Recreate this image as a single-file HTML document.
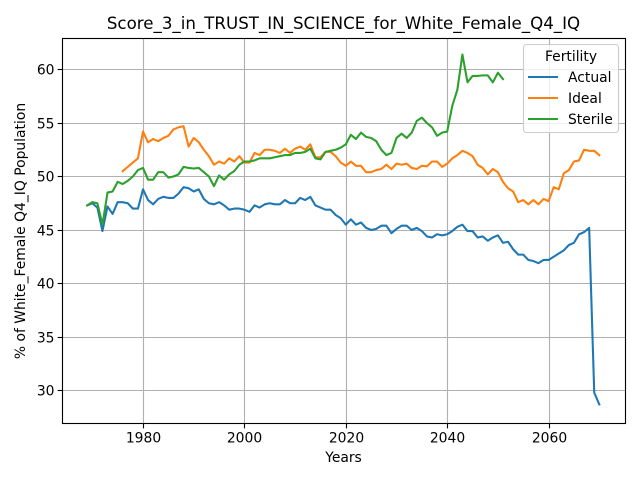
<!DOCTYPE html>
<html>
<head>
<meta charset="utf-8">
<title>Score_3_in_TRUST_IN_SCIENCE_for_White_Female_Q4_IQ</title>
<style>
html,body{margin:0;padding:0;background:#fff;}
svg{display:block;font-family:"DejaVu Sans",sans-serif;}
</style>
</head>
<body>
<svg id="chart" width="640" height="480" viewBox="0 0 640 480" xmlns="http://www.w3.org/2000/svg">
<rect x="0" y="0" width="640" height="480" fill="#fff"/>
<g id="grid"></g>
<g id="series"></g>
<rect x="62.5" y="38.5" width="563" height="385" fill="none" stroke="#000" stroke-width="1.11"/>
<g id="ticks"></g>
<text x="343.5" y="29" font-size="16.67" text-anchor="middle" fill="#000">Score_3_in_TRUST_IN_SCIENCE_for_White_Female_Q4_IQ</text>
<text x="343.5" y="462" font-size="13.89" text-anchor="middle" fill="#000">Years</text>
<text transform="translate(25 231) rotate(-90)" font-size="13.89" text-anchor="middle" fill="#000">% of White_Female Q4_IQ Population</text>
<g id="legend">
<rect x="523.5" y="44.5" width="95" height="88" rx="3" ry="3" fill="#fff" fill-opacity="0.8" stroke="#ccc" stroke-width="1.11"/>
<text x="571" y="61" font-size="13.89" text-anchor="middle" fill="#000">Fertility</text>
<line x1="528" y1="77" x2="558" y2="77" stroke="#1f77b4" stroke-width="2.08"/>
<text x="568" y="82" font-size="13.89" fill="#000">Actual</text>
<line x1="528" y1="98" x2="558" y2="98" stroke="#ff7f0e" stroke-width="2.08"/>
<text x="568" y="103" font-size="13.89" fill="#000">Ideal</text>
<line x1="528" y1="119" x2="558" y2="119" stroke="#2ca02c" stroke-width="2.08"/>
<text x="568" y="124" font-size="13.89" fill="#000">Sterile</text>
</g>
</svg>
<script>
const xTickLabels = [1980, 2000, 2020, 2040, 2060];
const yTickLabels = [30, 35, 40, 45, 50, 55, 60];
const actualStartYear = 1969;
const idealStartYear = 1976;
const sterileStartYear = 1969;
const actualValues = [47.3,47.5,47.1,44.9,47.2,46.5,47.6,47.6,47.5,47.0,47.0,48.8,47.8,47.4,47.9,48.1,48.0,48.0,48.4,49.0,48.9,48.6,48.8,47.9,47.5,47.4,47.6,47.3,46.9,47.0,47.0,46.9,46.7,47.3,47.1,47.4,47.5,47.4,47.4,47.8,47.5,47.5,48.0,47.8,48.1,47.3,47.1,46.9,46.9,46.4,46.1,45.5,46.0,45.5,45.7,45.2,45.0,45.1,45.4,45.4,44.7,45.1,45.4,45.4,45.0,45.2,44.9,44.4,44.3,44.6,44.5,44.6,44.9,45.3,45.5,44.9,44.9,44.3,44.4,44.0,44.3,44.5,43.8,43.9,43.2,42.7,42.7,42.2,42.1,41.9,42.2,42.2,42.5,42.8,43.1,43.6,43.8,44.6,44.8,45.2,29.8,28.7];
const idealValues = [50.5,50.9,51.3,51.7,54.2,53.2,53.5,53.3,53.6,53.8,54.4,54.6,54.7,52.8,53.6,53.2,52.5,51.9,51.1,51.4,51.2,51.7,51.4,51.9,51.3,51.3,52.2,52.0,52.5,52.5,52.4,52.2,52.6,52.2,52.6,52.8,52.5,53.0,51.8,51.8,52.3,52.3,51.9,51.3,51.0,51.4,51.0,51.0,50.4,50.4,50.6,50.7,51.1,50.7,51.2,51.1,51.2,50.8,50.7,51.0,50.95,51.4,51.4,50.9,51.2,51.7,52.0,52.4,52.2,51.9,51.1,50.8,50.2,50.7,50.4,49.5,48.9,48.6,47.6,47.8,47.4,47.8,47.4,47.9,47.7,49.0,48.8,50.3,50.6,51.4,51.5,52.5,52.4,52.4,52.0];
const sterileValues = [47.3,47.6,47.5,45.5,48.5,48.6,49.5,49.3,49.6,50.0,50.6,50.8,49.7,49.7,50.4,50.4,49.9,50.0,50.2,50.9,50.8,50.75,50.8,50.4,50.0,49.1,50.1,49.7,50.2,50.5,51.1,51.4,51.4,51.5,51.7,51.7,51.7,51.8,51.9,52.0,52.0,52.2,52.2,52.3,52.6,51.7,51.6,52.3,52.4,52.5,52.7,53.0,53.9,53.5,54.1,53.7,53.6,53.3,52.5,52.0,52.2,53.6,54.0,53.6,54.1,55.2,55.5,55.0,54.6,53.8,54.1,54.2,56.6,58.1,61.4,58.8,59.4,59.4,59.45,59.45,58.8,59.7,59.1];

const NS = 'http://www.w3.org/2000/svg';
const plotLeft = 62.5, plotRight = 625.5, plotTop = 38.5, plotBottom = 423.5;
function xScale(year) { return 143 + (year - 1980) * 5.07; }
function yScale(value) { return 390.5 - (value - 30) * 10.7; }
function make(tag, attrs, parent) {
  const el = document.createElementNS(NS, tag);
  for (const k in attrs) el.setAttribute(k, attrs[k]);
  parent.appendChild(el);
  return el;
}
const gridG = document.getElementById('grid');
const ticksG = document.getElementById('ticks');
const seriesG = document.getElementById('series');

xTickLabels.forEach(function (label) {
  const px = Math.round(xScale(label)) + 0.5;
  const g = make('line', {x1: px, y1: plotTop, x2: px, y2: plotBottom, stroke: '#b0b0b0', 'stroke-width': 1.11}, gridG);
  
  
  const t = make('line', {x1: px, y1: plotBottom, x2: px, y2: plotBottom + 4.86, stroke: '#000', 'stroke-width': 1.11}, ticksG);
  
  
  const txt = make('text', {x: px, y: plotBottom + 19, 'font-size': 13.89, 'text-anchor': 'middle', fill: '#000'}, ticksG);
  
  
  txt.textContent = label;
});
yTickLabels.forEach(function (label) {
  const py = Math.round(yScale(label) - 0.5) + 0.5;
  const g = make('line', {x1: plotLeft, y1: py, x2: plotRight, y2: py, stroke: '#b0b0b0', 'stroke-width': 1.11}, gridG);
  
  
  const t = make('line', {x1: plotLeft - 4.86, y1: py, x2: plotLeft, y2: py, stroke: '#000', 'stroke-width': 1.11}, ticksG);
  
  
  const txt = make('text', {x: plotLeft - 8, y: py + 5, 'font-size': 13.89, 'text-anchor': 'end', fill: '#000'}, ticksG);
  
  
  txt.textContent = label;
});
function drawSeries(values, startYear, color, name) {
  const pts = values.map(function (v, i) { return xScale(startYear + i).toFixed(2) + ',' + yScale(v).toFixed(2); }).join(' ');
  const line = make('polyline', {points: pts, fill: 'none', stroke: color, 'stroke-width': 2.08, 'stroke-linejoin': 'round', 'stroke-linecap': 'square'}, seriesG);
  
  
}
drawSeries(actualValues, actualStartYear, '#1f77b4', 'series-actual');
drawSeries(idealValues, idealStartYear, '#ff7f0e', 'series-ideal');
drawSeries(sterileValues, sterileStartYear, '#2ca02c', 'series-sterile');
</script>
</body>
</html>
